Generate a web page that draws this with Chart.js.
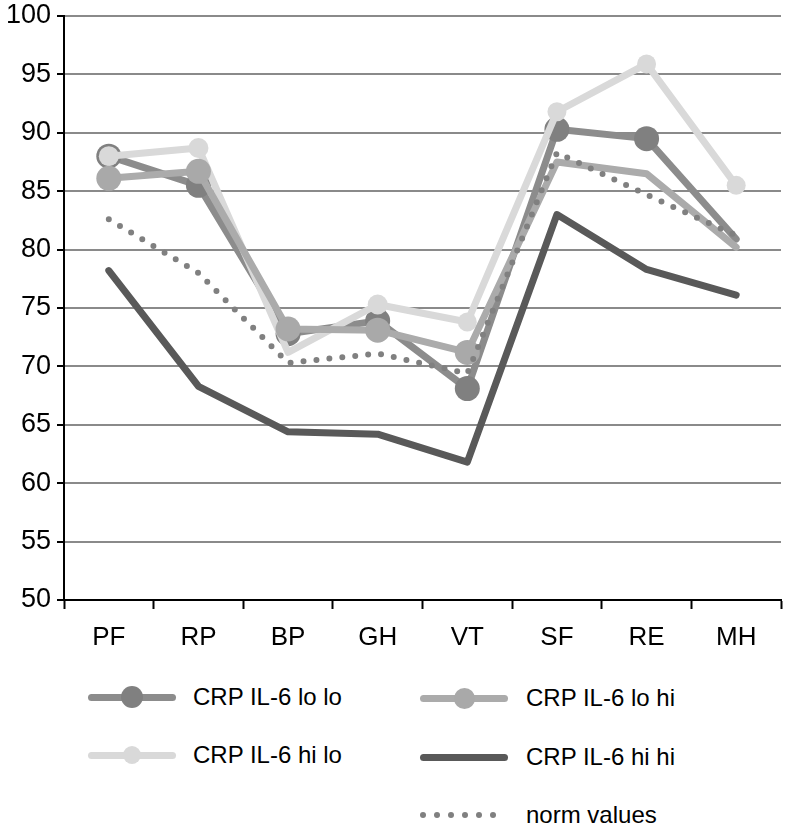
<!DOCTYPE html>
<html>
<head>
<meta charset="utf-8">
<script src="https://cdn.jsdelivr.net/npm/chart.js@4.4.1/dist/chart.umd.min.js"></script>
<style>
  body { margin: 0; background: #fff; font-family: "Liberation Sans", Arial, sans-serif; }
  #wrap { position: relative; width: 786px; height: 830px; }
  #chart { position: absolute; left: 0; top: 0; }
  .item { position: absolute; height: 30px; font-size: 24px; color: #000; }
  .sym { position: absolute; top: 0; height: 30px; }
  .bar { position: absolute; left: 0; right: 0; top: 11.5px; height: 7px; border-radius: 4px; }
  .dot { position: absolute; border-radius: 50%; }
  .lbl { position: absolute; top: 0; line-height: 30px; white-space: nowrap; }
</style>
</head>
<body>
<div id="wrap">
  <canvas id="chart" width="786" height="668"></canvas>
  <div id="legend"></div>
</div>
<script>
const categories = ["PF", "RP", "BP", "GH", "VT", "SF", "RE", "MH"];
const yTicks = [50, 55, 60, 65, 70, 75, 80, 85, 90, 95, 100];

const loLo = [88.0, 85.5, 72.8, 73.9, 68.1, 90.3, 89.5, 80.9];
const loHi = [86.1, 86.7, 73.2, 73.1, 71.2, 87.5, 86.5, 80.2];
const hiLo = [88.0, 88.7, 71.2, 75.3, 73.8, 91.8, 95.9, 85.5];
const hiHi = [78.2, 68.3, 64.4, 64.2, 61.8, 83.0, 78.3, 76.1];
const normValues = [82.6, 78.0, 70.3, 71.1, 69.4, 88.3, 84.7, 81.2];

const seriesNames = ["CRP IL-6 lo lo", "CRP IL-6 lo hi", "CRP IL-6 hi lo", "CRP IL-6 hi hi", "norm values"];

function lineSet(label, data, color, pointColor, radii, order) {
    return {
        label: label,
        data: data,
        borderColor: color,
        backgroundColor: pointColor,
        pointBackgroundColor: pointColor,
        pointBorderWidth: 0,
        pointRadius: radii,
        pointHoverRadius: radii,
        borderWidth: 7,
        borderJoinStyle: "round",
        borderCapStyle: "round",
        tension: 0,
        order: order
    };
}

const norm = lineSet(seriesNames[4], normValues, "#808080", "#808080", 0, 0);
norm.borderWidth = 6;
norm.borderDash = [0, 13];

const ctx = document.getElementById("chart").getContext("2d");

const chart = new Chart(ctx, {
    type: "line",
    data: {
        labels: categories,
        datasets: [
            lineSet(seriesNames[0], loLo, "#8c8c8c", "#808080", [12.5, 12.5, 12.5, 12.5, 12.5, 12.5, 12.5, 0], 4),
            lineSet(seriesNames[1], loHi, "#ababab", "#a9a9a9", [12.5, 12.5, 12.5, 12.5, 12.5, 0, 0, 0], 2),
            lineSet(seriesNames[2], hiLo, "#d9d9d9", "#d9d9d9", [10, 10, 0, 10, 9.5, 9.5, 9.5, 9.5], 3),
            lineSet(seriesNames[3], hiHi, "#595959", "#595959", 0, 1),
            norm
        ]
    },
    options: {
        responsive: false,
        animation: false,
        devicePixelRatio: 1,
        layout: { autoPadding: false, padding: { top: 16, right: 5, left: 0, bottom: 8 } },
        plugins: {
            legend: { display: false },
            tooltip: { enabled: false }
        },
        scales: {
            x: {
                offset: true,
                afterFit: (scale) => {
                    scale.height = 60;
                    scale.paddingLeft = 0;
                    scale.paddingRight = 0;
                },
                grid: {
                    offset: true,
                    drawOnChartArea: false,
                    drawTicks: true,
                    tickLength: 9,
                    tickColor: "#000",
                    tickWidth: 2
                },
                border: { color: "#000", width: 2 },
                ticks: {
                    color: "#000",
                    padding: 13,
                    font: { family: "Liberation Sans", size: 26 }
                }
            },
            y: {
                min: 50,
                max: 100,
                afterBuildTicks: (scale) => {
                    scale.ticks = yTicks.map(v => ({ value: v }));
                },
                afterFit: (scale) => {
                    scale.width = 64;
                    scale.paddingTop = 0;
                    scale.paddingBottom = 0;
                },
                grid: {
                    color: "#8a8a8a",
                    lineWidth: 2,
                    drawTicks: true,
                    tickLength: 7,
                    tickColor: "#000",
                    tickWidth: 2
                },
                border: { color: "#000", width: 2 },
                ticks: {
                    color: "#000",
                    padding: 6,
                    font: { family: "Liberation Sans", size: 27 }
                }
            }
        }
    }
});

// legend laid out in two columns like the original
const legendItems = [
    { name: seriesNames[0], x: 88, y: 682, color: "#8c8c8c", dot: "#808080", r: 11 },
    { name: seriesNames[1], x: 420, y: 683, color: "#ababab", dot: "#a9a9a9", r: 10.5 },
    { name: seriesNames[2], x: 88, y: 740, color: "#d9d9d9", dot: "#d9d9d9", r: 9 },
    { name: seriesNames[3], x: 420, y: 742, color: "#595959", dot: null, r: 0 },
    { name: seriesNames[4], x: 420, y: 800, color: null, dot: null, r: 0 }
];

const legend = document.getElementById("legend");
legendItems.forEach(it => {
    const el = document.createElement("div");
    el.className = "item";
    el.style.left = it.x + "px";
    el.style.top = it.y + "px";
    const sym = document.createElement("div");
    sym.className = "sym";
    sym.style.left = "0px";
    sym.style.width = "88px";
    if (it.color) {
        const bar = document.createElement("div");
        bar.className = "bar";
        bar.style.background = it.color;
        sym.appendChild(bar);
        if (it.dot) {
            const d = document.createElement("div");
            d.className = "dot";
            d.style.width = d.style.height = (it.r * 2) + "px";
            d.style.left = (44 - it.r) + "px";
            d.style.top = (15 - it.r) + "px";
            d.style.background = it.dot;
            sym.appendChild(d);
        }
    } else {
        for (let i = 0; i < 6; i++) {
            const d = document.createElement("div");
            d.className = "dot";
            d.style.width = d.style.height = "6px";
            d.style.left = (0 + i * 14) + "px";
            d.style.top = "12px";
            d.style.background = "#808080";
            sym.appendChild(d);
        }
    }
    el.appendChild(sym);
    const lbl = document.createElement("div");
    lbl.className = "lbl";
    lbl.style.left = (it.x < 200 ? 105 : 106) + "px";
    lbl.textContent = it.name;
    el.appendChild(lbl);
    legend.appendChild(el);
});
</script>
</body>
</html>
